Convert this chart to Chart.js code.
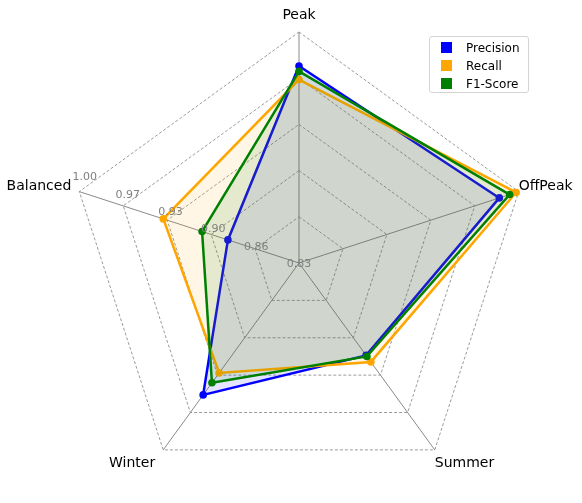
<!DOCTYPE html>
<html>
<head>
<meta charset="utf-8">
<script src="https://cdn.jsdelivr.net/npm/chart.js@4"></script>
<style>
    body { margin: 0; background: #fff; }
    #wrap { position: relative; width: 582px; height: 503px; }
    #legend {
        position: absolute; left: 429px; top: 36px; width: 98px; height: 55px;
        border: 1px solid #d4d4d4; border-radius: 3px; background: rgba(255,255,255,0.8);
        font-family: 'DejaVu Sans', sans-serif; font-size: 12px; color: #000;
    }
    .row { position: absolute; left: 11px; height: 14px; line-height: 14px; white-space: nowrap; }
    .swatch { display: inline-block; width: 11px; height: 11px; vertical-align: -1px; margin-right: 14px; }
</style>
</head>
<body>
<div id="wrap">
    <canvas id="radarChart"></canvas>
    <div id="legend"></div>
</div>
<script>
// Data
const categories = ['Peak', 'OffPeak', 'Summer', 'Winter', 'Balanced'];
const precisionValues = [0.975, 0.985, 0.914, 0.950, 0.885];
const recallValues = [0.965, 0.998, 0.920, 0.930, 0.935];
const f1Values = [0.971, 0.993, 0.915, 0.939, 0.905];
const tickValues = [0.83, 0.864, 0.898, 0.932, 0.966, 1.00];
const tickLabels = ['0.83', '0.86', '0.90', '0.93', '0.97', '1.00'];

const seriesNames = ['Precision', 'Recall', 'F1-Score'];
const seriesColors = ['#0000ff', '#ffa500', '#008000'];
const seriesFills = ['rgba(0,0,255,0.1)', 'rgba(255,165,0,0.1)', 'rgba(0,128,0,0.1)'];

/**
 * Draws the category names and the radial tick labels (matplotlib style).
 */
const labelsPlugin = {
    id: 'radarLabels',
    afterDraw(chart) {
        const scale = chart.scales.r;
        const ctx = chart.ctx;
        ctx.save();

        // category labels just outside the outer ring
        ctx.font = '14px "DejaVu Sans"';
        ctx.fillStyle = '#000';
        ctx.textBaseline = 'middle';
        categories.forEach((name, i) => {
            const outer = scale.getPointPositionForValue(i, scale.max);
            const pos = scale.getPointPosition(i, scale.drawingArea + 17);
            const dx = outer.x - scale.xCenter;
            if (dx > 60) {
                ctx.textAlign = 'left';
                ctx.fillText(name, outer.x, pos.y);
            } else if (dx < -60) {
                ctx.textAlign = 'right';
                ctx.fillText(name, outer.x - 8, pos.y);
            } else {
                ctx.textAlign = 'center';
                ctx.fillText(name, pos.x, pos.y);
            }
        });

        // radial tick labels along a ray at 158 degrees
        ctx.font = '11px "DejaVu Sans"';
        ctx.fillStyle = '#808080';
        ctx.textAlign = 'center';
        const ang = 158 * Math.PI / 180;
        tickValues.forEach((v, i) => {
            const d = scale.getDistanceFromCenterForValue(v);
            const x = scale.xCenter + d * Math.cos(ang);
            const y = scale.yCenter - d * Math.sin(ang);
            ctx.fillText(tickLabels[i], x, y + 1);
        });
        ctx.restore();
    }
};

function buildLegend() {
    const legend = document.getElementById('legend');
    legend.innerHTML = seriesNames.map((name, i) => `
        <div class="row" style="top:${4 + i * 18}px">
            <span class="swatch" style="background:${seriesColors[i]}"></span>${name}
        </div>
    `).join('');
}

function createChart() {
    const ctx = document.getElementById('radarChart');
    const seriesData = [precisionValues, recallValues, f1Values];

    new Chart(ctx, {
        type: 'radar',
        data: {
            labels: categories,
            datasets: seriesData.map((values, i) => ({
                label: seriesNames[i],
                data: values,
                borderColor: seriesColors[i],
                backgroundColor: seriesFills[i],
                pointBackgroundColor: seriesColors[i],
                pointBorderColor: seriesColors[i],
                pointBorderWidth: 0,
                pointRadius: 3.8,
                borderWidth: 2.5,
                fill: true,
                order: 3 - i
            }))
        },
        options: {
            responsive: true,
            maintainAspectRatio: false,
            animation: false,
            layout: {
                padding: { left: 68, right: 52, top: 32, bottom: 9 }
            },
            plugins: {
                legend: { display: false },
                tooltip: { enabled: false }
            },
            scales: {
                r: {
                    min: tickValues[0],
                    max: tickValues[tickValues.length - 1],
                    afterBuildTicks: scale => {
                        scale.ticks = tickValues.map(v => ({ value: v }));
                    },
                    ticks: { display: false },
                    pointLabels: { display: false },
                    angleLines: { color: '#8a8a8a', lineWidth: 1 },
                    grid: { color: '#909090', lineWidth: 0.9 },
                    border: { dash: [3, 2] }
                }
            }
        },
        plugins: [labelsPlugin]
    });
}

buildLegend();
createChart();
</script>
</body>
</html>
